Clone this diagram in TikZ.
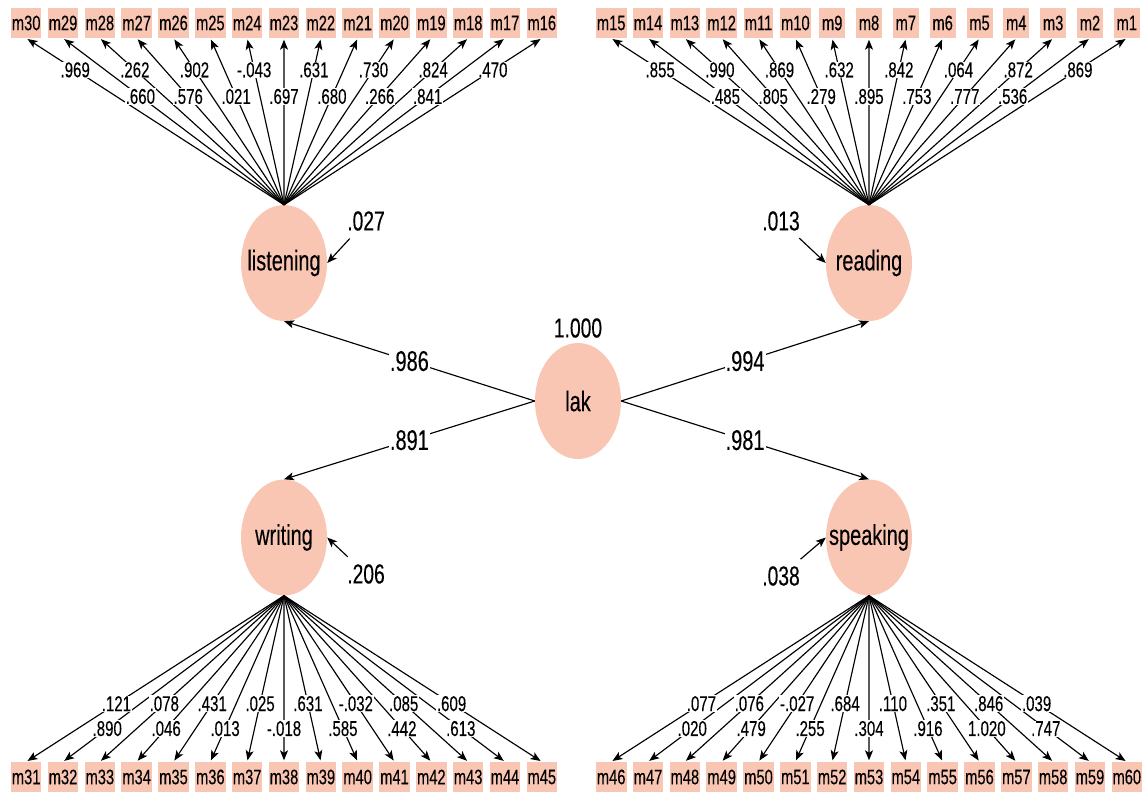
\documentclass[tikz,border=0pt]{standalone}
\usepackage{fontspec}
\setmainfont{Liberation Sans}[FakeStretch=0.7,FakeBold=0.2]
\usetikzlibrary{arrows.meta,shapes.geometric}
\definecolor{semfill}{RGB}{250,198,180}

\begin{document}
\begin{tikzpicture}[x=1pt,y=-1pt,
  obs/.style={rectangle, fill=semfill, minimum height=30pt, minimum width=26pt,
    inner xsep=1pt, inner ysep=0pt, font=\fontsize{21}{24}\selectfont},
  lat/.style={ellipse, fill=semfill, minimum width=86pt, minimum height=116pt,
    inner sep=0pt},
  latname/.style={font=\fontsize{28.5}{32}\selectfont},
  arr/.style={-{Stealth[length=10pt,width=8pt,inset=2.5pt]}, line width=1.15pt},
  coef/.style={fill=white, inner sep=0.6pt, font=\fontsize{21.5}{23}\selectfont},
  bigcoef/.style={fill=white, inner sep=1pt, font=\fontsize{28.5}{32}\selectfont},
  big/.style={inner sep=1pt, font=\fontsize{27.5}{30}\selectfont}]
\useasboundingbox (0,0) rectangle (1146,792);

% latent variables (names set as centred labels so the ellipse keeps its size)
\node[lat, label={[latname]center:lak}]             (lak)       at (578,401)   {};
\node[lat, label={[latname]center:listening}]       (listening) at (284,263) {};
\node[lat, label={[latname]center:reading}]         (reading)   at (869,263) {};
\node[lat, label={[latname]center:writing}]         (writing)   at (284,537.5) {};
\node[lat, label={[latname]center:speaking}]        (speaking)  at (869,537.5) {};

% observed indicators
\foreach \n [count=\i from 0] in {30,29,...,16}
  \node[obs] (m\n) at ({26.2+36.83*\i},23) {m\n};
\foreach \n [count=\i from 0] in {15,14,...,1}
  \node[obs] (m\n) at ({611.2+36.83*\i},23) {m\n};
\foreach \n [count=\i from 0] in {31,32,...,45}
  \node[obs] (m\n) at ({26.2+36.83*\i},777) {m\n};
\foreach \n [count=\i from 0] in {46,47,...,60}
  \node[obs] (m\n) at ({611.2+36.83*\i},777) {m\n};

% loadings: listening
\foreach \n/\v [count=\i from 0] in {30/.969,29/.660,28/.262,27/.576,26/.902,25/.021,24/-.043,23/.697,22/.631,21/.680,20/.730,19/.266,18/.824,17/.841,16/.470}
  \draw[arr, shorten >=1.5pt] (listening.north) -- (m\n.south);
\foreach \n/\v [count=\i from 0] in {30/.969,29/.660,28/.262,27/.576,26/.902,25/.021,24/-.043,23/.697,22/.631,21/.680,20/.730,19/.266,18/.824,17/.841,16/.470}{
  \pgfmathsetmacro{\p}{ifthenelse(mod(\i,2)==0,0.81,0.65)}
  \path (listening.north) -- (m\n.south) node[coef, pos=\p] {\v};
}

% loadings: reading
\foreach \n/\v [count=\i from 0] in {15/.855,14/.485,13/.990,12/.805,11/.869,10/.279,9/.632,8/.895,7/.842,6/.753,5/.064,4/.777,3/.872,2/.536,1/.869}
  \draw[arr, shorten >=1.5pt] (reading.north) -- (m\n.south);
\foreach \n/\v [count=\i from 0] in {15/.855,14/.485,13/.990,12/.805,11/.869,10/.279,9/.632,8/.895,7/.842,6/.753,5/.064,4/.777,3/.872,2/.536,1/.869}{
  \pgfmathsetmacro{\p}{ifthenelse(mod(\i,2)==0,0.81,0.65)}
  \path (reading.north) -- (m\n.south) node[coef, pos=\p] {\v};
}

% loadings: writing
\foreach \n/\v [count=\i from 0] in {31/.121,32/.890,33/.078,34/.046,35/.431,36/.013,37/.025,38/-.018,39/.631,40/.585,41/-.032,42/.442,43/.085,44/.613,45/.609}
  \draw[arr, shorten >=1.5pt] (writing.south) -- (m\n.north);
\foreach \n/\v [count=\i from 0] in {31/.121,32/.890,33/.078,34/.046,35/.431,36/.013,37/.025,38/-.018,39/.631,40/.585,41/-.032,42/.442,43/.085,44/.613,45/.609}{
  \pgfmathsetmacro{\p}{ifthenelse(mod(\i,2)==0,0.65,0.80)}
  \path (writing.south) -- (m\n.north) node[coef, pos=\p] {\v};
}

% loadings: speaking
\foreach \n/\v [count=\i from 0] in {46/.077,47/.020,48/.076,49/.479,50/-.027,51/.255,52/.684,53/.304,54/.110,55/.916,56/.351,57/1.020,58/.846,59/.747,60/.039}
  \draw[arr, shorten >=1.5pt] (speaking.south) -- (m\n.north);
\foreach \n/\v [count=\i from 0] in {46/.077,47/.020,48/.076,49/.479,50/-.027,51/.255,52/.684,53/.304,54/.110,55/.916,56/.351,57/1.020,58/.846,59/.747,60/.039}{
  \pgfmathsetmacro{\p}{ifthenelse(mod(\i,2)==0,0.65,0.80)}
  \path (speaking.south) -- (m\n.north) node[coef, pos=\p] {\v};
}

% second-order structure
\draw[arr] (lak.west) -- (listening.south) node[bigcoef, pos=0.5] {.986};
\draw[arr] (lak.west) -- (writing.north)   node[bigcoef, pos=0.5] {.891};
\draw[arr] (lak.east) -- (reading.south)   node[bigcoef, pos=0.5] {.994};
\draw[arr] (lak.east) -- (speaking.north)  node[bigcoef, pos=0.5] {.981};

% factor variance
\node[big] (lakvar) at (578,328) {1.000};

% residual variances
\node[big] (rl) at (366,221) {.027};
\node[big] (rr) at (781,221) {.013};
\node[big] (rw) at (366,574) {.206};
\node[big] (rs) at (781,576) {.038};
\draw[arr, shorten <=9pt] (rl) -- (listening.east);
\draw[arr, shorten <=9pt] (rr) -- (reading.west);
\draw[arr, shorten <=9pt] (rw) -- (writing.east);
\draw[arr, shorten <=9pt] (rs) -- (speaking.west);
\end{tikzpicture}
\end{document}
